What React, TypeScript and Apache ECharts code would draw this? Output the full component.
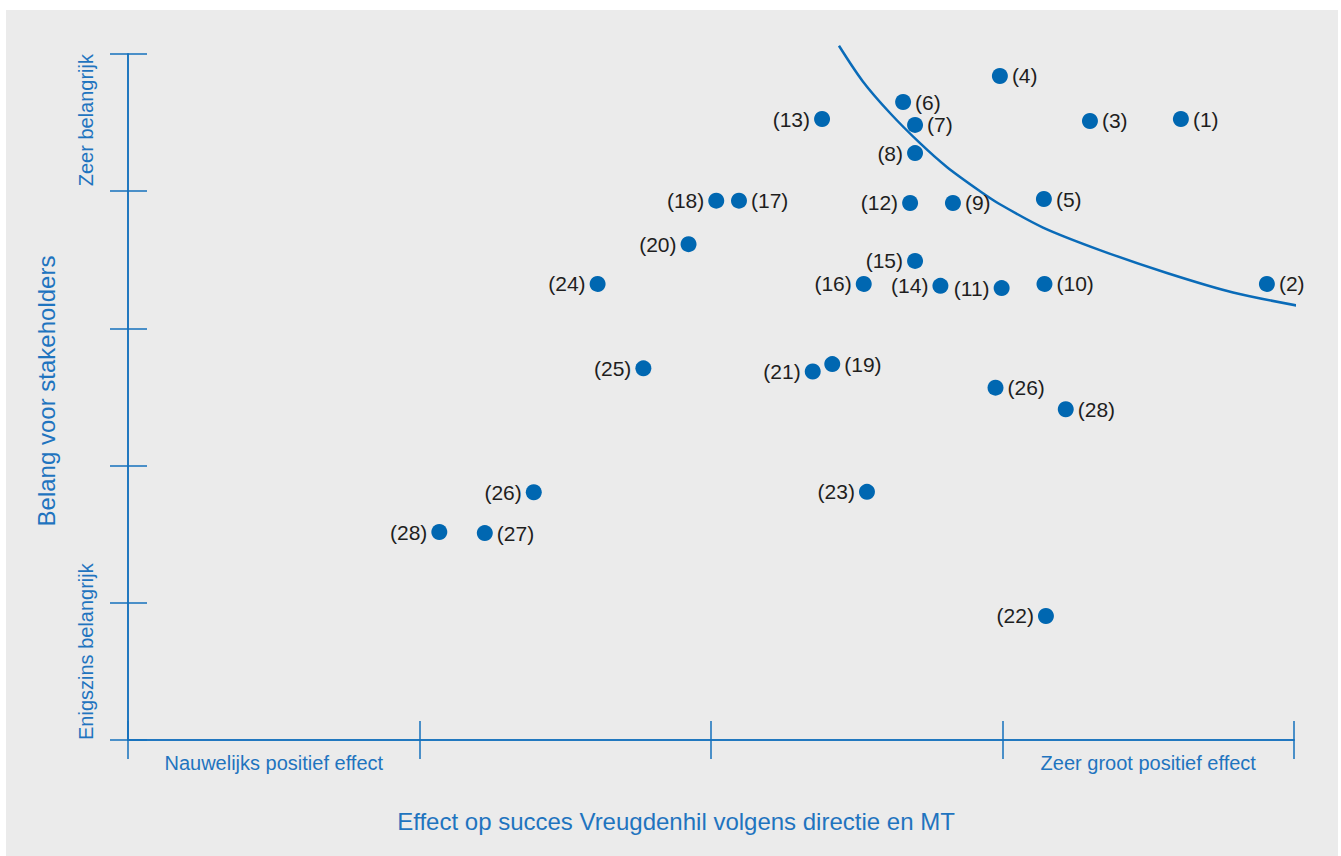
import React, { useEffect, useRef } from "react";
import * as echarts from "echarts";

// ---- data ----
const pointIds = [
  "(1)", "(2)", "(3)", "(4)", "(5)", "(6)", "(7)", "(8)", "(9)", "(10)",
  "(11)", "(12)", "(13)", "(14)", "(15)", "(16)", "(17)", "(18)", "(19)", "(20)",
  "(21)", "(22)", "(23)", "(24)", "(25)", "(26)", "(28)", "(26)", "(27)", "(28)",
];
const effectX = [
  3.612, 3.907, 3.300, 2.991, 3.142, 2.659, 2.700, 2.700, 2.830, 3.144,
  2.997, 2.683, 2.381, 2.787, 2.700, 2.524, 2.096, 2.018, 2.416, 1.923,
  2.349, 3.149, 2.535, 1.611, 1.768, 2.976, 3.217, 1.392, 1.224, 1.068,
];
const belangY = [
  4.526, 3.324, 4.512, 4.840, 3.943, 4.650, 4.483, 4.278, 3.914, 3.324,
  3.294, 3.914, 4.526, 3.310, 3.492, 3.324, 3.931, 3.931, 2.740, 3.614,
  2.686, 0.904, 1.809, 3.324, 2.709, 2.568, 2.411, 1.806, 1.508, 1.516,
];
const labelSides = [
  "right", "right", "right", "right", "right", "right", "right", "left", "right", "right",
  "left", "left", "left", "left", "left", "left", "right", "left", "right", "left",
  "left", "left", "left", "left", "left", "right", "right", "left", "right", "left",
];
const curveX = [2.439, 2.521, 2.614, 2.717, 2.810, 2.923, 2.991, 3.139, 3.334, 3.564, 3.791, 4.055];
const curveY = [5.06, 4.8, 4.57, 4.35, 4.175, 4.0, 3.905, 3.735, 3.571, 3.404, 3.262, 3.149];

const xBandValues = [0.5, 3.5];
const xBandLabels = ["Nauwelijks positief effect", "Zeer groot positief effect"];
const yTopLabel = "Zeer belangrijk";
const yBottomLabel = "Enigszins belangrijk";
const xTitle = "Effect op succes Vreugdenhil volgens directie en MT";
const yTitle = "Belang voor stakeholders";

const AXIS = "#1570bd";
const TEXT = "#1f74bf";
const DOT = "#0067b1";
const FONT = "'Liberation Sans', Arial, Helvetica, sans-serif";

export default function App() {
  const ref = useRef<HTMLDivElement>(null);
  useEffect(() => {
    if (!ref.current) return;
    const chart = echarts.init(ref.current, undefined, { renderer: "svg" });
    const baseX = {
      type: "value",
      min: 0,
      max: 4,
      interval: 1,
      position: "bottom",
      axisLine: { show: true, onZero: false, lineStyle: { color: AXIS, width: 1.5 } },
      axisLabel: { show: false },
      splitLine: { show: false },
    };
    const baseY = {
      type: "value",
      min: 0,
      max: 5,
      interval: 1,
      position: "left",
      axisLine: { show: true, onZero: false, lineStyle: { color: AXIS, width: 1.5 } },
      axisLabel: { show: false },
      splitLine: { show: false },
    };
    chart.setOption({
      animation: false,
      backgroundColor: "#ebebeb",
      textStyle: { fontFamily: FONT },
      grid: { left: 122, right: 44, top: 44, bottom: 116, containLabel: false },
      xAxis: [
        { ...baseX, axisTick: { show: true, inside: true, length: 19, lineStyle: { color: AXIS, width: 1.5 } } },
        { ...baseX, axisTick: { show: true, inside: false, length: 19, lineStyle: { color: AXIS, width: 1.5 } } },
        {
          type: "value",
          min: 0,
          max: 4,
          interval: 0.5,
          position: "bottom",
          axisLine: { show: false },
          axisTick: { show: false },
          splitLine: { show: false },
          axisLabel: {
            show: true,
            margin: 13,
            fontSize: 20,
            color: TEXT,
            fontFamily: FONT,
            formatter: (v: number) => {
              const i = xBandValues.indexOf(v);
              return i >= 0 ? xBandLabels[i] : "";
            },
          },
        },
      ],
      yAxis: [
        { ...baseY, axisTick: { show: true, inside: true, length: 19, lineStyle: { color: AXIS, width: 1.5 } } },
        { ...baseY, axisTick: { show: true, inside: false, length: 18, lineStyle: { color: AXIS, width: 1.5 } } },
      ],
      graphic: [
        {
          type: "text",
          x: 80,
          y: 44,
          rotation: Math.PI / 2,
          style: { text: yTopLabel, align: "right", verticalAlign: "middle", fill: TEXT, fontSize: 20, fontFamily: FONT },
        },
        {
          type: "text",
          x: 80,
          y: 730,
          rotation: Math.PI / 2,
          style: { text: yBottomLabel, align: "left", verticalAlign: "middle", fill: TEXT, fontSize: 20, fontFamily: FONT },
        },
        {
          type: "text",
          x: 40,
          y: 381,
          rotation: Math.PI / 2,
          style: { text: yTitle, align: "center", verticalAlign: "middle", fill: TEXT, fontSize: 24, fontFamily: FONT },
        },
        {
          type: "text",
          x: 670,
          y: 811,
          style: { text: xTitle, align: "center", verticalAlign: "middle", fill: TEXT, fontSize: 24, fontFamily: FONT },
        },
      ],
      series: [
        {
          type: "line",
          xAxisIndex: 0,
          yAxisIndex: 0,
          data: curveX.map((x, i) => [x, curveY[i]]),
          smooth: 0.3,
          showSymbol: false,
          symbol: "none",
          clip: false,
          lineStyle: { color: "#0a6bb8", width: 2.5 },
          silent: true,
          z: 1,
        },
        {
          type: "scatter",
          xAxisIndex: 0,
          yAxisIndex: 0,
          symbolSize: 16,
          itemStyle: { color: DOT, opacity: 1 },
          label: {
            show: true,
            formatter: (p: any) => p.name,
            color: "#1e1e1e",
            fontSize: 21,
            fontFamily: FONT,
            distance: 4,
          },
          data: pointIds.map((id, i) => ({
            name: id,
            value: [effectX[i], belangY[i]],
            label: { position: labelSides[i] },
          })),
          z: 3,
        },
      ],
    });
    return () => chart.dispose();
  }, []);
  return (
    <div
      ref={ref}
      style={{ position: "absolute", left: 6, top: 10, width: 1332, height: 846 }}
    />
  );
}
